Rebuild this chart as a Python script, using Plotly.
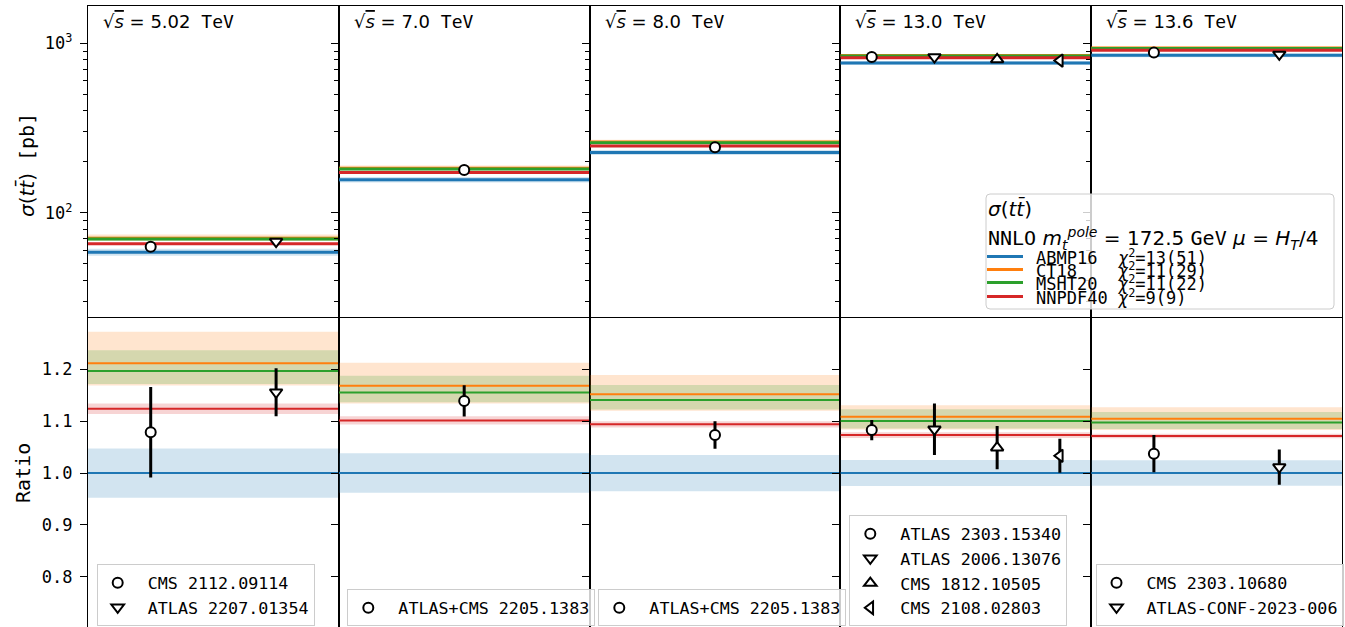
import plotly.graph_objects as go

# ---------------------------------------------------------------- data
energies = ["5.02", "7.0", "8.0", "13.0", "13.6"]

pdf_names = ["ABMP16", "CT18", "MSHT20", "NNPDF40"]
pdf_chi2 = ["13(51)", "11(29)", "11(22)", "9(9)"]
pdf_colors = ["#1f77b4", "#ff7f0e", "#2ca02c", "#d62728"]
pdf_bands = ["rgba(31,119,180,0.2)", "rgba(255,127,14,0.2)",
             "rgba(44,160,44,0.2)", "rgba(214,39,40,0.2)"]

# NNLO predictions in pb for each energy, with upper / lower PDF uncertainty
abmp16 = [58.4, 156.7, 226.7, 765.5, 849.3]
abmp16_up = [2.77, 5.95, 7.93, 19.1, 20.8]
abmp16_dn = [2.77, 5.95, 7.93, 19.1, 20.8]
ct18 = [70.76, 183.1, 261.1, 848.6, 938.3]
ct18_up = [3.56, 6.94, 8.43, 17.1, 18.6]
ct18_dn = [2.49, 5.39, 7.21, 18.8, 18.5]
msht20 = [69.89, 181.07, 258.6, 842.3, 932.3]
msht20_up = [2.35, 5.05, 6.62, 17.4, 17.2]
msht20_dn = [1.47, 3.01, 4.08, 10.9, 10.8]
nnpdf40 = [65.64, 172.6, 248.0, 821.6, 909.9]
nnpdf40_up = [0.60, 1.25, 1.36, 4.2, 3.8]
nnpdf40_dn = [0.60, 1.25, 1.36, 4.2, 3.8]

pred_central = [abmp16, ct18, msht20, nnpdf40]
pred_up = [abmp16_up, ct18_up, msht20_up, nnpdf40_up]
pred_dn = [abmp16_dn, ct18_dn, msht20_dn, nnpdf40_dn]

# measurements per energy: label, value [pb], total uncertainty [pb], marker
meas_labels = [
    ["CMS 2112.09114", "ATLAS 2207.01354"],
    ["ATLAS+CMS 2205.1383"],
    ["ATLAS+CMS 2205.1383"],
    ["ATLAS 2303.15340", "ATLAS 2006.13076", "CMS 1812.10505", "CMS 2108.02803"],
    ["CMS 2303.10680", "ATLAS-CONF-2023-006"],
]
meas_values = [[63.0, 67.5], [178.5], [243.3], [829.0, 830.0, 803.0, 791.0], [881.0, 859.0]]
meas_errors = [[5.1, 2.7], [4.7], [6.0], [15.0, 38.0, 32.0, 25.0], [30.5, 29.0]]
meas_symbols = [
    ["circle", "triangle-down"],
    ["circle"],
    ["circle"],
    ["circle", "triangle-down", "triangle-up", "triangle-left"],
    ["circle", "triangle-down"],
]

log_ticks = [100, 1000]
log_ticktext = ["10<sup>2</sup>", "10<sup>3</sup>"]
log_minor = [20, 30, 40, 50, 60, 70, 80, 90, 200, 300, 400, 500, 600, 700, 800, 900, 2000]
ratio_ticks = [0.8, 0.9, 1.0, 1.1, 1.2]

# ---------------------------------------------------------------- layout helpers
FIG_W, FIG_H = 1345, 627
ML, MR, MT, MB = 88, 3, 6, 0
PW, PH = FIG_W - ML - MR, FIG_H - MT - MB
ROW_SPLIT = (FIG_H - 317) / PH          # paper y of the boundary between rows


def fx(px):
    return (px - ML) / PW


def fy(py):
    return (FIG_H - MB - py) / PH


MONO = "DejaVu Sans Mono"
SANS = "DejaVu Sans"
NBSP = "\u00a0"
SPINE_W = 1.2

fig = go.Figure()

ncol = len(energies)
legend_names = ["legend"] + [f"legend{k}" for k in range(2, ncol + 1)]

for c in range(ncol):
    top, bot = c + 1, c + 1 + ncol
    xt, yt = f"x{top}", f"y{top}"
    xb, yb = f"x{bot}", f"y{bot}"
    n = len(meas_values[c])
    ref = abmp16[c]

    # uncertainty bands, then central lines
    for p in range(len(pdf_names)):
        v, up, dn = pred_central[p][c], pred_up[p][c], pred_dn[p][c]
        for xa, ya, scale, in [(xt, yt, 1.0), (xb, yb, ref)]:
            lo, hi = (v - dn) / scale, (v + up) / scale
            fig.add_trace(go.Scatter(
                x=[0, n, n, 0, 0], y=[lo, lo, hi, hi, lo], xaxis=xa, yaxis=ya,
                mode="lines", fill="toself", fillcolor=pdf_bands[p],
                line=dict(width=0), showlegend=False, hoverinfo="skip"))
    for p in range(len(pdf_names)):
        v = pred_central[p][c]
        for xa, ya, scale, lw in [(xt, yt, 1.0, 3), (xb, yb, ref, 2)]:
            fig.add_trace(go.Scatter(
                x=[0, n], y=[v / scale, v / scale], xaxis=xa, yaxis=ya,
                mode="lines", line=dict(color=pdf_colors[p], width=lw),
                showlegend=False, hoverinfo="skip"))

    # measurements
    for i in range(n):
        val, err, sym = meas_values[c][i], meas_errors[c][i], meas_symbols[c][i]
        marker = dict(symbol=sym, size=10 if sym == "circle" else 11,
                      color="white", line=dict(color="black", width=2))
        fig.add_trace(go.Scatter(
            x=[i + 0.5], y=[val], xaxis=xt, yaxis=yt, mode="markers",
            marker=marker, showlegend=False))
        fig.add_trace(go.Scatter(
            x=[i + 0.5], y=[val / ref], xaxis=xb, yaxis=yb, mode="markers",
            marker=marker, name=NBSP + meas_labels[c][i], legend=legend_names[c],
            error_y=dict(type="data", array=[err / ref], color="black",
                         thickness=3, width=0)))

# ---------------------------------------------------------------- axes
layout = dict(
    width=FIG_W, height=FIG_H,
    margin=dict(l=ML, r=MR, t=MT, b=MB, autoexpand=False),
    paper_bgcolor="white", plot_bgcolor="white",
    font=dict(family=MONO, size=17, color="black"),
    hovermode=False,
)

for c in range(ncol):
    top, bot = c + 1, c + 1 + ncol
    n = len(meas_values[c])
    dom = [c / ncol, (c + 1) / ncol]
    base_x = dict(domain=dom, range=[0, n], showgrid=False, zeroline=False,
                  ticks="", showticklabels=False)
    layout[f"xaxis{top}" if top > 1 else "xaxis"] = dict(
        base_x, anchor=f"y{top}", showline=True, mirror=True,
        linecolor="black", linewidth=SPINE_W)
    layout[f"xaxis{bot}"] = dict(base_x, anchor=f"y{bot}", showline=False)

    layout[f"yaxis{top}" if top > 1 else "yaxis"] = dict(
        domain=[ROW_SPLIT, 1], anchor=f"x{top}", type="log",
        range=[1.3843, 3.2202], showgrid=False, zeroline=False,
        showline=True, mirror=True, linecolor="black", linewidth=SPINE_W,
        ticks="outside", ticklen=7, tickwidth=1.3, tickcolor="black",
        tickmode="array", tickvals=log_ticks, ticktext=log_ticktext,
        showticklabels=(c == 0), ticklabelstandoff=4,
        minor=dict(ticks="outside", ticklen=4, tickwidth=1, tickcolor="black",
                   tickmode="array", tickvals=log_minor, showgrid=False))
    layout[f"yaxis{bot}"] = dict(
        domain=[0, ROW_SPLIT], anchor=f"x{bot}", range=[0.703, 1.301],
        showgrid=False, zeroline=False,
        showline=True, mirror=True, linecolor="black", linewidth=SPINE_W,
        ticks="outside", ticklen=7, tickwidth=1.3, tickcolor="black",
        tickmode="array", tickvals=ratio_ticks, tickformat=".1f",
        showticklabels=(c == 0), ticklabelstandoff=4)

# per-energy legends for the measurements
legend_left_px = [96.7, 347.3, 598.3, 849.3, 1095.5]
for c in range(ncol):
    layout[legend_names[c]] = dict(
        x=fx(legend_left_px[c]), y=fy(626.3), xanchor="left", yanchor="bottom",
        bgcolor="rgba(255,255,255,0.8)", bordercolor="#cccccc", borderwidth=1,
        font=dict(family=MONO, size=16.7), tracegroupgap=0, itemclick=False,
        itemdoubleclick=False)

fig.update_layout(**layout)

# ---------------------------------------------------------------- text
ann = []
for c in range(ncol):
    top = c + 1
    ann.append(dict(
        xref=f"x{top} domain" if top > 1 else "x domain",
        yref=f"y{top} domain" if top > 1 else "y domain",
        x=13 / (PW / ncol), y=1 - (21.7 - MT) / (317 - MT),
        xanchor="left", yanchor="middle", align="left", showarrow=False,
        font=dict(family=SANS, size=18),
        text=("√<span style=\"text-decoration:overline\"><i>s</i></span> = "
              f"{energies[c]}<span style=\"font-family:{MONO}\">{NBSP}TeV</span>")))

ann.append(dict(
    xref="paper", yref="paper", x=fx(26), y=fy(165), textangle=-90,
    xanchor="center", yanchor="middle", showarrow=False,
    font=dict(family=SANS, size=20),
    text=f"<i>σ</i>(<i>tt\u0304</i>)<span style=\"font-family:{MONO}\"> [pb]</span>"))
ann.append(dict(
    xref="paper", yref="paper", x=fx(23), y=fy(473), textangle=-90,
    xanchor="center", yanchor="middle", showarrow=False,
    font=dict(family=MONO, size=20), text="Ratio"))

# theory legend box
bx0, bx1, by0, by1, r = fx(986), fx(1334), fy(309), fy(194), 4
rx, ry = r / PW, r / PH
box_path = (f"M{bx0 + rx},{by0} L{bx1 - rx},{by0} Q{bx1},{by0} {bx1},{by0 + ry} "
            f"L{bx1},{by1 - ry} Q{bx1},{by1} {bx1 - rx},{by1} "
            f"L{bx0 + rx},{by1} Q{bx0},{by1} {bx0},{by1 - ry} "
            f"L{bx0},{by0 + ry} Q{bx0},{by0} {bx0 + rx},{by0} Z")
shapes = [dict(type="path", xref="paper", yref="paper", path=box_path,
               fillcolor="rgba(255,255,255,0.8)", line=dict(color="#cccccc", width=1),
               layer="above")]

ann.append(dict(
    xref="paper", yref="paper", x=fx(986), y=fy(208), xanchor="left", yanchor="middle",
    align="left", showarrow=False, font=dict(family=SANS, size=20),
    text="<i>σ</i>(<i>tt\u0304</i>)"))
ann.append(dict(
    xref="paper", yref="paper", x=fx(986), y=fy(238.5), xanchor="left", yanchor="middle",
    align="left", showarrow=False, font=dict(family=SANS, size=20),
    text=(f"<span style=\"font-family:{MONO}\">NNLO</span> "
          "<i>m</i><sub><i>t</i></sub><sup><i>pole</i></sup> = 172.5 "
          f"<span style=\"font-family:{MONO}\">GeV</span> "
          "<i>μ</i> = <i>H</i><sub><i>T</i></sub>/4")))

entry_y = [256.5, 269.5, 282.5, 296.5]
for p in range(len(pdf_names)):
    shapes.append(dict(type="line", xref="paper", yref="paper",
                       x0=fx(987), x1=fx(1023), y0=fy(entry_y[p]), y1=fy(entry_y[p]),
                       line=dict(color=pdf_colors[p], width=3), layer="above"))
    label = pdf_names[p].ljust(8).replace(" ", NBSP)
    ann.append(dict(
        xref="paper", yref="paper", x=fx(1034), y=fy(entry_y[p]),
        xanchor="left", yanchor="middle", align="left", showarrow=False,
        font=dict(family=MONO, size=17),
        text=f"{label}<i>χ</i><sup>2</sup>={pdf_chi2[p]}"))

fig.update_layout(annotations=ann, shapes=shapes)

fig.write_html("out.html")
